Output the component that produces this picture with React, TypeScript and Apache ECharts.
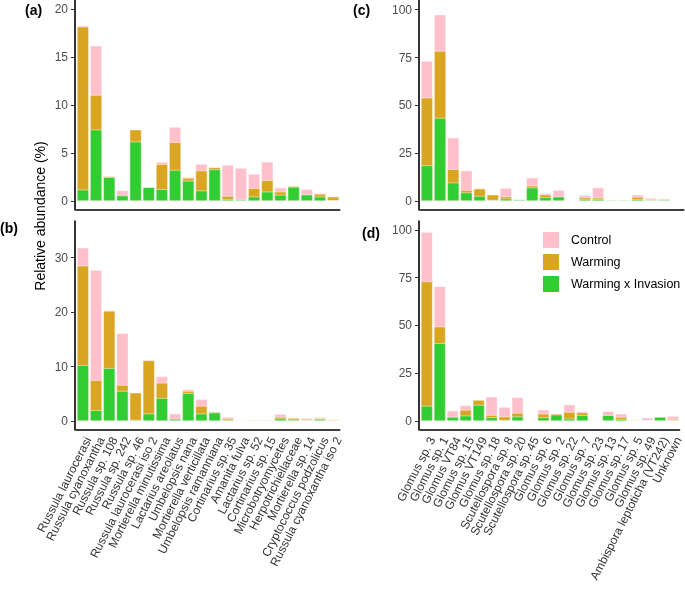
import React, { useEffect, useRef } from "react";
import * as echarts from "echarts";

const fungiTaxa = [
  "Russula laurocerasi", "Russula cyanoxantha", "Russula sp. 108", "Russula sp. 242", "Russula sp. 46",
  "Russula laurocerasi iso 2", "Mortierella minutissima", "Lactarius areolatus", "Umbelopsis nana",
  "Mortierella verticillata", "Umbelopsis ramanniana", "Cortinarius sp. 35", "Amanita fulva",
  "Lactarius sp. 52", "Cortinarius sp. 15", "Microbotryomycetes", "Herpotrichiellaceae",
  "Mortierella sp. 14", "Cryptococcus podzolicus", "Russula cyanoxantha iso 2",
];
const amfTaxa = [
  "Glomus sp. 3", "Glomus sp. 1", "Glomus VT84", "Glomus sp. 15", "Glomus VT149", "Glomus sp. 18",
  "Scutellospora sp. 8", "Scutellospora sp. 20", "Scutellospora sp. 45", "Glomus sp. 6", "Glomus sp. 2",
  "Glomus sp. 22", "Glomus sp. 7", "Glomus sp. 23", "Glomus sp. 13", "Glomus sp. 17", "Glomus sp. 5",
  "Glomus sp. 49", "Ambispora leptoticha (VT242)", "Unknown",
];

// Panel (a)
const aControl = [18.3, 16.2, 2.6, 1.1, 0, 0, 4.07, 7.72, 2.5, 3.86, 0, 3.76, 3.44, 2.82, 4.1, 1.39, 0, 1.22, 0.83, 0];
const aWarming = [18.19, 11.06, 2.55, 0, 7.44, 0, 3.83, 6.12, 2.4, 3.17, 3.51, 0.52, 0, 1.32, 2.16, 0.97, 1.56, 0, 0.73, 0.45];
const aWxI = [1.18, 7.44, 2.47, 0.56, 6.19, 1.43, 1.22, 3.23, 2.1, 1.08, 3.3, 0.17, 0.14, 0.45, 0.97, 0.63, 1.46, 0.66, 0.45, 0];
// Panel (b)
const bControl = [31.8, 27.7, 20.3, 16.1, 0, 11.2, 8.2, 1.35, 5.8, 4.0, 1.7, 0.74, 0.25, 0, 0, 1.29, 0, 0.55, 0.67, 0];
const bWarming = [28.5, 7.48, 20.2, 6.6, 5.2, 11.1, 7.0, 0, 5.5, 2.76, 1.66, 0.43, 0, 0.2, 0.2, 0.74, 0.55, 0.3, 0.49, 0.25];
const bWxI = [10.25, 1.96, 9.7, 5.5, 0.2, 1.35, 4.2, 0.37, 5.1, 1.35, 1.53, 0.2, 0, 0, 0.05, 0.43, 0.25, 0, 0.3, 0];
// Panel (c)
const cControl = [73.2, 97.4, 33.1, 15.9, 6.7, 0, 6.8, 0.9, 12.2, 4.0, 5.75, 0.5, 3.1, 7.0, 0, 0, 3.3, 1.6, 0, 0.5];
const cWarming = [54.0, 78.4, 16.6, 5.7, 6.4, 3.3, 2.3, 0, 8.0, 3.3, 0, 0, 1.9, 1.7, 0, 0, 2.1, 0.9, 1.0, 0];
const cWxI = [18.6, 43.4, 9.6, 4.4, 2.6, 0.5, 1.2, 0.7, 7.0, 1.9, 2.25, 0, 1.0, 0.9, 0.5, 0.5, 0.9, 0.5, 0.6, 0];
// Panel (d)
const dControl = [98.9, 70.5, 5.4, 8.2, 0, 12.7, 7.3, 12.4, 0, 5.9, 0, 8.6, 5.1, 0.7, 5.1, 3.8, 0.7, 1.7, 0, 2.6];
const dWarming = [73.0, 49.4, 0, 5.8, 11.0, 3.1, 2.3, 4.2, 0, 3.8, 3.8, 4.7, 4.4, 0, 0, 2.1, 0.5, 0, 0, 1.0];
const dWxI = [7.9, 40.7, 2.1, 2.8, 8.4, 1.9, 0.5, 2.3, 0.3, 1.9, 3.3, 1.2, 3.0, 0, 3.0, 1.0, 0, 0, 2.1, 0];

const treatments = ["Control", "Warming", "Warming x Invasion"];
const colors = ["#FFC0CB", "#DAA520", "#32CD32"];

const ticksA = [0, 5, 10, 15, 20];
const ticksB = [0, 10, 20, 30];
const ticksCD = [0, 25, 50, 75, 100];

const FONT = "'Liberation Sans', Arial, Helvetica, sans-serif";

export default function App() {
  const ref = useRef<HTMLDivElement>(null);
  useEffect(() => {
    if (!ref.current) return;
    const chart = echarts.init(ref.current, undefined, { renderer: "svg" });
    const cat = 13.17;
    const leftL = 75 + 0.1 * cat;
    const leftR = 419 + 0.1 * cat;
    const w = cat * 20;
    const grids = [
      { left: leftL, top: 0, width: w, height: 210 },
      { left: leftL, top: 221, width: w, height: 209 },
      { left: leftR, top: 0, width: w, height: 210 },
      { left: leftR, top: 221, width: w, height: 209 },
    ];
    const cats = [fungiTaxa, fungiTaxa, amfTaxa, amfTaxa];
    const showLabels = [false, true, false, true];
    const ranges = [
      [-0.94, 20.97],
      [-1.651, 36.7],
      [-4.7, 105.07],
      [-4.71, 104.7],
    ];
    const ticks = [ticksA, ticksB, ticksCD, ticksCD];
    const data = [
      [aControl, aWarming, aWxI],
      [bControl, bWarming, bWxI],
      [cControl, cWarming, cWxI],
      [dControl, dWarming, dWxI],
    ];
    const xAxis = cats.map((c, i) => ({
      type: "category",
      gridIndex: i,
      data: c,
      axisLine: { onZero: false, lineStyle: { color: "#000", width: 1.6 } },
      axisTick: { alignWithLabel: true, length: 4, lineStyle: { color: "#333", width: 1 } },
      axisLabel: {
        show: showLabels[i],
        interval: 0,
        rotate: 63,
        margin: 5,
        align: "right",
        verticalAlign: "top",
        fontSize: 12,
        color: "#333",
        fontFamily: FONT,
      },
    }));
    const yAxis = ranges.map((r, i) => ({
      type: "value",
      gridIndex: i,
      min: r[0],
      max: r[1],
      offset: 0.1 * cat,
      splitLine: { show: false },
      axisLine: { show: true, onZero: false, lineStyle: { color: "#000", width: 1.6 } },
      axisTick: { show: true, length: 4, customValues: ticks[i], lineStyle: { color: "#333" } },
      axisLabel: { customValues: ticks[i], fontSize: 12, color: "#4d4d4d", margin: 7, fontFamily: FONT },
    }));
    const series: any[] = [];
    data.forEach((panel, i) => {
      panel.forEach((vals, k) => {
        series.push({
          type: "bar",
          name: treatments[k],
          xAxisIndex: i,
          yAxisIndex: i,
          data: vals,
          barWidth: "90%",
          barGap: "-100%",
          itemStyle: { color: colors[k], borderColor: "#fff", borderWidth: 0.5 },
          emphasis: { disabled: true },
        });
      });
    });
    chart.setOption({
      animation: false,
      textStyle: { fontFamily: FONT },
      grid: grids,
      xAxis,
      yAxis,
      series,
      legend: {
        data: treatments,
        orient: "vertical",
        left: 536,
        top: 225,
        itemWidth: 18,
        itemHeight: 18,
        itemGap: 2,
        icon: "rect",
        textStyle: { fontSize: 12.5, color: "#000", fontFamily: FONT, padding: [0, 0, 0, 6] },
      },
      graphic: [
        { type: "text", left: 25, top: 3, style: { text: "(a)", fontSize: 14, fontWeight: "bold", fill: "#000", fontFamily: FONT } },
        { type: "text", left: 0, top: 221, style: { text: "(b)", fontSize: 14, fontWeight: "bold", fill: "#000", fontFamily: FONT } },
        { type: "text", left: 353, top: 3, style: { text: "(c)", fontSize: 14, fontWeight: "bold", fill: "#000", fontFamily: FONT } },
        { type: "text", left: 362, top: 226, style: { text: "(d)", fontSize: 14, fontWeight: "bold", fill: "#000", fontFamily: FONT } },
        {
          type: "text",
          x: 40,
          y: 216,
          rotation: Math.PI / 2,
          style: {
            text: "Relative abundance (%)",
            fontSize: 14,
            fill: "#000",
            fontFamily: FONT,
            align: "center",
            verticalAlign: "middle",
          },
        },
      ],
    });
    return () => chart.dispose();
  }, []);
  return <div ref={ref} style={{ position: "fixed", left: 0, top: 0, width: 685, height: 592 }} />;
}
